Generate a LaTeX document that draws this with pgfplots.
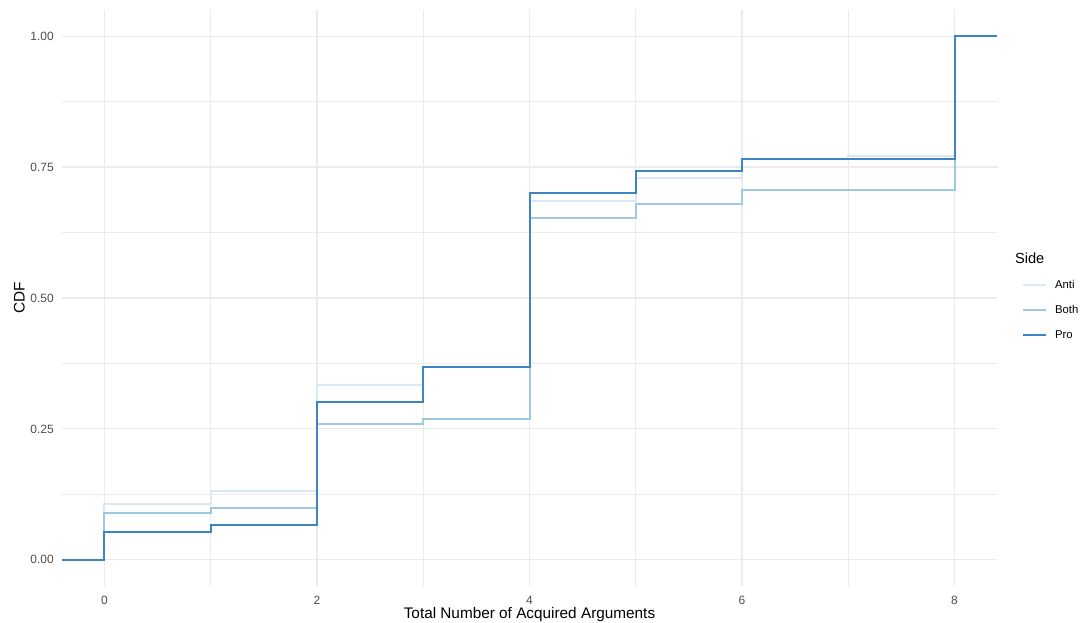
\documentclass[border=0pt]{standalone}
\usepackage{fontspec}
\setmainfont{Liberation Sans}
\usepackage{pgfplots}
\pgfplotsset{compat=1.18}
\definecolor{cAnti}{HTML}{DAE8F5}
\definecolor{cBoth}{HTML}{9ECAE1}
\definecolor{cPro}{HTML}{3D85C3}
\definecolor{cGrid}{HTML}{EBEBEB}
\definecolor{cTick}{HTML}{4D4D4D}
\begin{document}
\begin{tikzpicture}
\path[use as bounding box] (-46.5pt,-27.75pt) rectangle (765.75pt,439.5pt);
\begin{axis}[
  at={(0,0)}, anchor=south west,
  scale only axis, width=701.25pt, height=432pt,
  xmin=-0.4, xmax=8.4, ymin=-0.05, ymax=1.05,
  axis line style={draw=none},
  major tick length=0pt, minor tick length=0pt,
  xtick={0,2,4,6,8}, minor xtick={1,3,5,7},
  ytick={0,0.25,0.5,0.75,1}, minor ytick={0.125,0.375,0.625,0.875},
  grid=both,
  major grid style={draw=cGrid, line width=0.9pt},
  minor grid style={draw=cGrid, line width=0.5pt},
  /pgf/number format/assume math mode=true,
  tick label style={font=\fontsize{9}{10}\selectfont, text=cTick},
  y tick label style={/pgf/number format/.cd, fixed, fixed zerofill, precision=2, /tikz/.cd, anchor=east, xshift=-2.6pt},
  x tick label style={anchor=center, yshift=-10.5pt},
  xlabel={Total Number of Acquired Arguments},
  ylabel={CDF},
  label style={font=\fontsize{11.5}{13}\selectfont},
  xlabel style={at={(axis description cs:0.5,0)}, anchor=center, yshift=-21.5pt},
  ylabel style={at={(axis description cs:0,0.5)}, anchor=center, yshift=32pt},
  legend style={at={(rel axis cs:1.0267,0.544)}, anchor=north west, draw=none, fill=none,
    inner sep=0pt, column sep=6pt, row sep=0pt,
    font=\fontsize{8.5}{10}\selectfont,
    nodes={inner sep=0pt, minimum height=18.75pt, anchor=west}},
  legend cell align=left,
  clip=false,
]
\addplot[const plot, draw=cAnti, line width=1.5pt] coordinates {
(-0.4,0) (0,0.106) (1,0.132) (2,0.333) (3,0.368) (4,0.685) (5,0.729) (6,0.765) (7,0.772) (8,1) (8.4,1)};
\addplot[const plot, draw=cBoth, line width=1.5pt] coordinates {
(-0.4,0) (0,0.090) (1,0.098) (2,0.259) (3,0.269) (4,0.652) (5,0.679) (6,0.706) (7,0.706) (8,1) (8.4,1)};
\addplot[const plot, draw=cPro, line width=1.5pt] coordinates {
(-0.4,0) (0,0.053) (1,0.067) (2,0.302) (3,0.368) (4,0.700) (5,0.743) (6,0.765) (7,0.765) (8,1) (8.4,1)};
\addlegendimage{legend image code/.code={\draw[draw=cAnti, line width=1.5pt] (0pt,0pt) -- (15pt,0pt);}}
\addlegendentry{Anti}
\addlegendimage{legend image code/.code={\draw[draw=cBoth, line width=1.5pt] (0pt,0pt) -- (15pt,0pt);}}
\addlegendentry{Both}
\addlegendimage{legend image code/.code={\draw[draw=cPro, line width=1.5pt] (0pt,0pt) -- (15pt,0pt);}}
\addlegendentry{Pro}
\node[anchor=west, inner sep=0pt, font=\fontsize{11}{13}\selectfont] at (rel axis cs:1.019,0.569) {Side};
\end{axis}
\end{tikzpicture}
\end{document}
